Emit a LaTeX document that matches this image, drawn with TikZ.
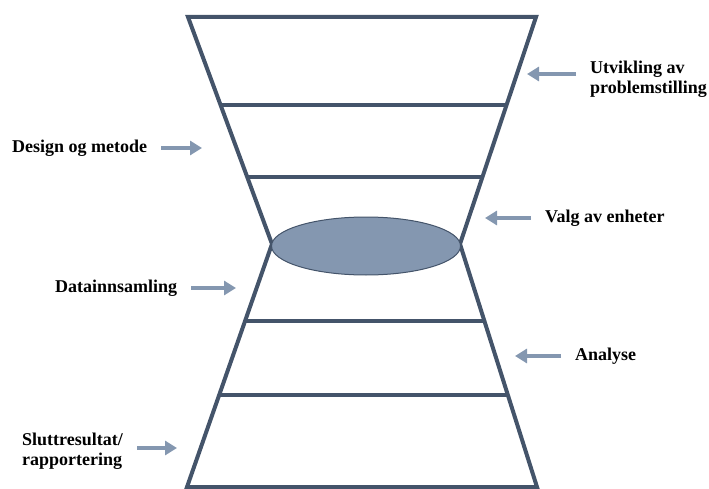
\documentclass[tikz,border=0pt]{standalone}
\usepackage{fontspec}
\setmainfont{Liberation Serif}
\usetikzlibrary{arrows.meta,positioning,calc,shapes.geometric}
\definecolor{slate}{HTML}{44546A}
\definecolor{steel}{HTML}{8497B0}
\begin{document}
\begin{tikzpicture}[x=1pt, y=-1pt,
    frame/.style={draw=slate, line width=4pt},
    pointer/.style={-{Triangle[length=12pt,width=14pt]}, draw=steel, fill=steel, line width=4pt, shorten <=14pt},
    lbl/.style={font=\fontsize{18}{20}\selectfont\bfseries, align=left, inner sep=0pt, anchor=west},
]
\useasboundingbox (0,0) rectangle (709,489);

% hourglass corners
\coordinate (tl) at (188,17);
\coordinate (tr) at (536,17);
\coordinate (wl) at (272,244);
\coordinate (wr) at (460,244);
\coordinate (bl) at (187,487);
\coordinate (br) at (537,487);

\draw[frame] (tl) -- (tr) -- (wr) -- (br) -- (bl) -- (wl) -- cycle;
\draw[frame] ($(tl)!0.389!(wl)$) -- ($(tr)!0.389!(wr)$);
\draw[frame] ($(tl)!0.704!(wl)$) -- ($(tr)!0.704!(wr)$);
\draw[frame] ($(wl)!0.316!(bl)$) -- ($(wr)!0.316!(br)$);
\draw[frame] ($(wl)!0.623!(bl)$) -- ($(wr)!0.623!(br)$);

\node[ellipse, draw=slate, fill=steel, line width=1pt, inner sep=0pt,
      minimum width=189pt, minimum height=58pt] (hub) at (366,246) {};

% labels
\node[lbl] (prob) at (590,79) {Utvikling av\\problemstilling};
\node[lbl] (design) at (12,148) {Design og metode};
\node[lbl] (valg) at (545,218) {Valg av enheter};
\node[lbl] (data) at (55,288) {Datainnsamling};
\node[lbl] (analyse) at (575,356) {Analyse};
\node[lbl] (slutt) at (22,451) {Sluttresultat/\\rapportering};

% arrow tips
\coordinate (prob-tip) at (527,74);
\coordinate (design-tip) at (202,148);
\coordinate (valg-tip) at (485,218);
\coordinate (data-tip) at (236,288);
\coordinate (analyse-tip) at (515,356);
\coordinate (slutt-tip) at (177,448);

\draw[pointer] (prob.west |- prob-tip) -- (prob-tip);
\draw[pointer] (design.east) -- (design-tip);
\draw[pointer] (valg.west) -- (valg-tip);
\draw[pointer] (data.east) -- (data-tip);
\draw[pointer] (analyse.west) -- (analyse-tip);
\draw[pointer] (slutt.east |- slutt-tip) -- (slutt-tip);

\end{tikzpicture}
\end{document}
